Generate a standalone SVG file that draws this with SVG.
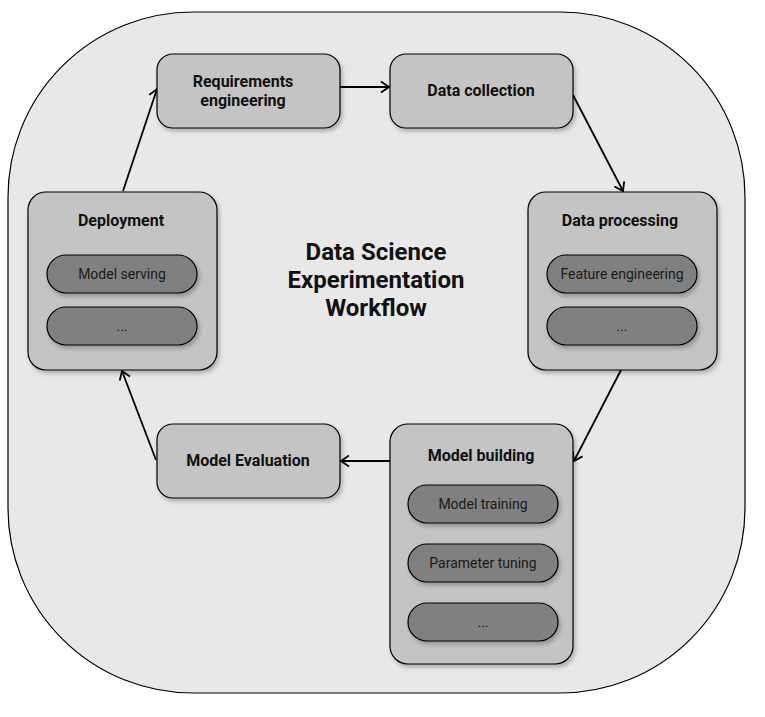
<svg xmlns="http://www.w3.org/2000/svg" width="765" height="717" viewBox="0 0 765 717">
<defs>
<filter id="sh" x="-10%" y="-10%" width="130%" height="130%">
<feDropShadow dx="2" dy="3" stdDeviation="2" flood-color="#000" flood-opacity="0.25"/>
</filter>
<marker id="arr" markerUnits="userSpaceOnUse" markerWidth="14" markerHeight="14" refX="11" refY="7" orient="auto">
<path d="M3,1.5 L11,7 L3,12.5" fill="none" stroke="#000" stroke-width="1.8"/>
</marker>
</defs>
<style>
.box{fill:#c4c4c4;stroke:#000;stroke-width:1.2;filter:url(#sh)}
.pill{fill:#808080;stroke:#000;stroke-width:1.2;filter:url(#sh)}
.t{font-family:Roboto,"Liberation Sans",sans-serif;font-weight:bold;font-size:16px;fill:#111;text-anchor:middle}
.p{font-family:Roboto,"Liberation Sans",sans-serif;font-size:14px;fill:#1a1a1a;text-anchor:middle}
.c{font-family:Roboto,"Liberation Sans",sans-serif;font-weight:bold;font-size:24px;fill:#111;text-anchor:middle}
.e{fill:none;stroke:#000;stroke-width:1.8;marker-end:url(#arr)}
</style>
<rect x="0" y="0" width="765" height="717" fill="#fff"/>
<rect id="container" x="8" y="12" width="737" height="681" rx="185" ry="185" fill="#e8e8e8" stroke="#000" stroke-width="1.2"/>
<text class="c" x="376" y="260">Data Science</text>
<text class="c" x="376" y="288">Experimentation</text>
<text class="c" x="376" y="316">Workflow</text>
<g id="connectors">
<line class="e" x1="340" y1="87" x2="389" y2="87"/>
<line class="e" x1="573" y1="95" x2="623" y2="191"/>
<line class="e" x1="621" y1="370" x2="574" y2="461"/>
<line class="e" x1="390" y1="461" x2="341" y2="461"/>
<line class="e" x1="156" y1="460" x2="122" y2="371"/>
<line class="e" x1="123" y1="191" x2="157" y2="89"/>
</g>
<g id="requirements">
<rect class="box" x="157" y="54" width="183" height="74" rx="16"/>
<text class="t" x="243" y="87">Requirements</text>
<text class="t" x="243" y="106">engineering</text>
</g>
<g id="collection">
<rect class="box" x="390" y="54" width="183" height="74" rx="16"/>
<text class="t" x="481" y="96">Data collection</text>
</g>
<g id="processing">
<rect class="box" x="528" y="192" width="189" height="178" rx="18"/>
<text class="t" x="620" y="226">Data processing</text>
<rect class="pill" x="547" y="255" width="150" height="38" rx="19"/>
<text class="p" x="622" y="279">Feature engineering</text>
<rect class="pill" x="547" y="307" width="150" height="38" rx="19"/>
<text class="p" x="622" y="331">...</text>
</g>
<g id="building">
<rect class="box" x="390" y="424" width="183" height="240" rx="18"/>
<text class="t" x="481" y="461">Model building</text>
<rect class="pill" x="408" y="485" width="150" height="38" rx="19"/>
<text class="p" x="483" y="509">Model training</text>
<rect class="pill" x="408" y="544" width="150" height="38" rx="19"/>
<text class="p" x="483" y="568">Parameter tuning</text>
<rect class="pill" x="408" y="603" width="150" height="38" rx="19"/>
<text class="p" x="483" y="627">...</text>
</g>
<g id="evaluation">
<rect class="box" x="157" y="424" width="183" height="74" rx="16"/>
<text class="t" x="248" y="466">Model Evaluation</text>
</g>
<g id="deployment">
<rect class="box" x="28" y="192" width="189" height="178" rx="18"/>
<text class="t" x="121" y="226">Deployment</text>
<rect class="pill" x="47" y="255" width="150" height="38" rx="19"/>
<text class="p" x="122" y="279">Model serving</text>
<rect class="pill" x="47" y="307" width="150" height="38" rx="19"/>
<text class="p" x="122" y="331">...</text>
</g>
</svg>
